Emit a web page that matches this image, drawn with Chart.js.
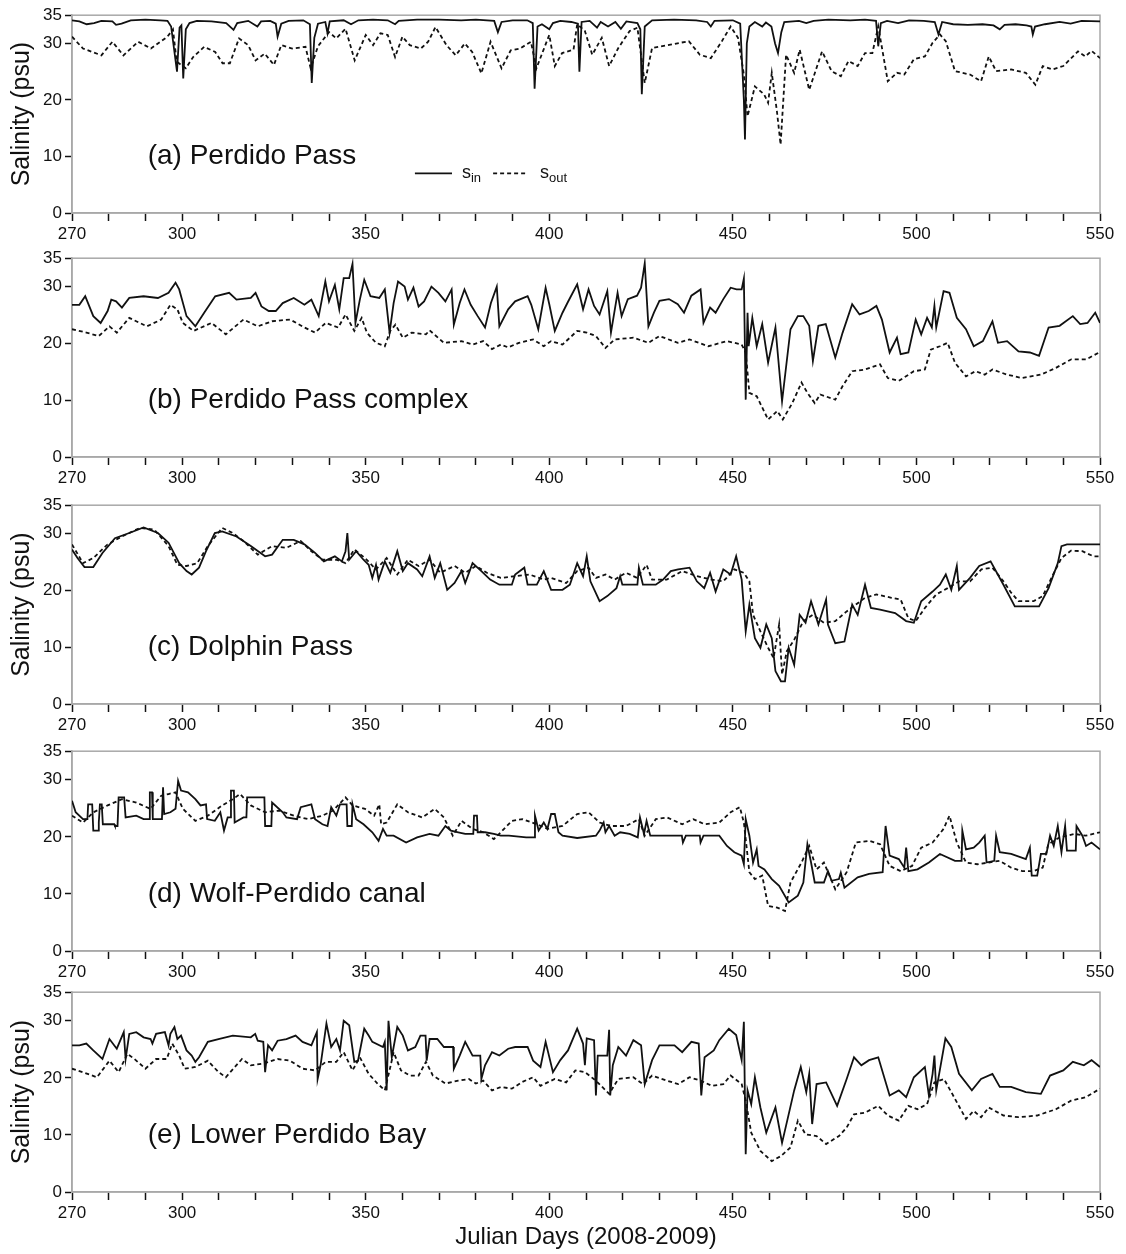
<!DOCTYPE html>
<html>
<head>
<meta charset="utf-8">
<title>Salinity</title>
<script src="https://cdn.jsdelivr.net/npm/chart.js@4.4.1/dist/chart.umd.min.js"></script>
<style>
  html, body { margin: 0; padding: 0; background: #fff; overflow: hidden; }
  #wrap { position: relative; width: 1126px; height: 1254px; }
  #wrap canvas { position: absolute; left: 0; }
</style>
</head>
<body>
<div id="wrap"></div>
<script>
// axis ticks
const xTickDays = [270, 280, 290, 300, 310, 320, 330, 340, 350, 360, 370, 380, 390, 400, 410, 420, 430, 440, 450, 460, 470, 480, 490, 500, 510, 520, 530, 540, 550];
const xLabelDays = [270, 300, 350, 400, 450, 500, 550];
const yTickVals = [0, 10, 20, 30, 35];

// [julian day, salinity] pairs, s_in (solid) and s_out (dashed) per site
const aIn = [[270,34.1],[272,33.9],[274,33.4],[276,33.6],[278,34.0],[281,33.9],[282,33.3],[283.5,33.5],[286,34.1],[290,34.2],[294,34.1],[296,34.0],[297,33.0],[298.6,25.0],[299.3,32.8],[299.8,33.2],[300.3,23.8],[301,32.5],[302,33.6],[304,34.0],[308,33.9],[312,33.6],[314,32.4],[315,33.6],[318,34.0],[320.5,33.0],[321.5,33.9],[324,34.0],[325.5,33.5],[326,31.2],[327,33.5],[329,34.0],[333,34.1],[334.8,33.4],[335.3,23.0],[336,31],[337,33.5],[339,33.8],[339.6,31.8],[340.2,33.9],[344,34.1],[346,33.4],[348,34.1],[352,34.2],[356,34.1],[358,33.4],[359,34.0],[364,34.2],[370,34.2],[376,34.1],[380,34.2],[385,34.0],[386,32.0],[387,33.8],[390,34.1],[394,34.1],[395.5,33.6],[396,22.0],[396.8,33.0],[398,33.4],[400,32.5],[401,33.6],[403,34.0],[406,33.8],[407.8,33.5],[408.2,25.0],[408.8,33.8],[411,34.0],[413,32.8],[414,33.8],[416,33.0],[418,33.8],[419.5,32.6],[421,33.9],[424,33.6],[424.8,32.5],[425.2,21.0],[426,33.0],[428,34.1],[434,34.2],[440,34.1],[443,33.8],[444,33.0],[445,34.0],[450,34.1],[452,33.5],[453,20],[453.3,13.0],[453.8,30],[454.5,33.0],[456,33.8],[458,33.0],[459,33.7],[460.5,33.0],[461.5,30],[462.3,28.3],[463.2,32],[464,33.8],[468,34.0],[470,33.6],[472,34.0],[476,34.2],[482,34.1],[486,34.2],[489,34.0],[489.6,29.5],[490.3,33.6],[492,34.0],[495,33.6],[498,34.1],[502,34.0],[505,33.8],[506,31.6],[507,33.8],[510,33.4],[514,33.3],[518,33.4],[521,33.2],[522.7,32.5],[524,33.3],[527,33.4],[530,33.2],[531.3,33.0],[531.7,31.6],[532.3,33.0],[535,33.4],[539,33.8],[542,33.5],[545,34.0],[550,33.9]];
const aOut = [[270,31.2],[273,29.1],[278,27.9],[281,30.3],[284,27.9],[288,30.3],[291.5,29.1],[296,31.2],[297.5,32.5],[298.5,26.8],[301,25.6],[303,27.6],[306,29.4],[309,28.5],[311,26.5],[313,26.5],[315.5,30.9],[318,29.7],[320,27],[322.5,28.2],[325,26.2],[327,29.7],[330,29.1],[333.6,29.4],[335,25.6],[337,29.5],[340,32],[342,30.9],[344.5,32.6],[347,27],[350,31.5],[352,29.7],[354,31.8],[356,31.5],[358,27.6],[360,31.2],[362,29.7],[365,29.1],[367,30.3],[369,32.9],[372,29.7],[374.5,27.9],[377,30],[379,28.5],[381.5,24.7],[384,30.3],[387,25.6],[389.5,28.8],[392,29.1],[395,30.3],[396.5,25.6],[398.5,29],[400,31.5],[401.5,26],[403.5,28.3],[406.6,28.9],[407.6,33.4],[409.7,32.2],[411.7,28],[414.3,31],[416.3,26],[418.8,29.2],[421.9,32.2],[424,32.8],[426,23],[428,29.2],[433,29.8],[438,30.4],[441,28],[444,27.4],[447,30.4],[449.4,33],[451.4,31],[453,24.5],[454,17.1],[456,22.4],[458.5,21],[459.6,19.5],[460.6,24.8],[462,18],[463,12.1],[464.5,28],[466.7,24.8],[468.2,28.9],[470.8,21.8],[474.3,28.6],[476.9,25.1],[479.4,24.2],[481.5,26.9],[484,26],[486,28.3],[488,28.3],[489.6,33],[492.2,23.3],[494.7,24.8],[496.7,24.5],[499.3,27.2],[502.3,27.7],[504.4,30.1],[506.4,31.6],[508,30.4],[510.5,25.1],[514.6,24.5],[517.6,23.3],[519.7,27.7],[521.7,25.1],[525.8,25.4],[529.8,24.8],[532.4,22.7],[534.4,26],[537,25.4],[540,26],[544,28.6],[546,27.7],[547.7,28.7],[550,27.4]];

const bIn = [[270,26.8],[272,26.8],[273.6,28.3],[275.8,24.8],[277.8,23.6],[279.7,25.7],[280.7,27.7],[282,27.4],[283.6,26.3],[285.6,28],[289.5,28.3],[293.4,28],[296.3,28.9],[298.2,30.7],[299.2,29.5],[301.2,24.8],[303.6,23],[306,25.4],[309,28.3],[312.8,28.9],[314.8,27.7],[318.7,28],[320,28.9],[321.6,26.5],[323.6,25.7],[325.5,25.7],[327.4,27.1],[330.4,28],[333.3,26.8],[335.2,27.7],[337.2,24.8],[339,30.9],[340,27.4],[341.6,30.3],[342.8,26],[344,31.5],[345.5,31.5],[346.4,34],[347.2,23.6],[348.4,27.7],[349.6,31.2],[351.3,28.3],[353.7,28],[355.2,29.5],[356.5,21.9],[357.6,27.1],[358.8,30.9],[360.6,30],[361.5,27.7],[363,29.8],[364.4,26.5],[365.9,27.4],[367.9,30],[369.8,28.9],[371.7,27.4],[373.4,29.5],[374,23.3],[375.6,27.1],[376.9,29.5],[378.6,26.8],[380.5,24.8],[382.5,22.8],[384.1,27.1],[385.7,30],[386.4,23],[388.8,26],[390.7,27.4],[394.1,28.3],[395.1,26.8],[397,22.5],[399,29.8],[400,26.9],[401.5,22.2],[403.6,25.4],[405,27.2],[407.6,30.4],[409.2,26],[410.7,29.5],[412.2,26.6],[413.7,25.1],[415.8,29.2],[416.8,21.9],[418.6,28.9],[419.7,24.8],[421.4,27.8],[423.9,28.4],[425,29.8],[426,34.1],[427,23],[428.5,25.4],[430,27.5],[432.6,27.8],[435,26.9],[436.7,25.4],[438.7,28.4],[441.2,29.5],[442,23.6],[443.8,26.3],[445.3,25.4],[447.4,27.8],[449.4,29.8],[451,29.5],[452.4,29.5],[453,31.4],[453.5,10.1],[454,25.4],[454.3,19.5],[455.3,24.5],[456.5,19.5],[458,23.4],[459.6,16.6],[461.6,22.8],[463.4,9.8],[465.7,22.5],[467.7,24.8],[469.2,24.8],[470.8,23.1],[471.8,16.9],[473.3,23.1],[475.3,23.4],[477.9,17.5],[479.9,21.9],[482.5,26.9],[484.5,25.1],[487,25.7],[489.1,26.6],[490.6,24.2],[492.7,18.4],[494.7,21],[495.7,18.1],[497.8,18.4],[499.8,24.2],[501.3,21.6],[502.9,24.5],[504.2,22.8],[504.9,26.6],[505.4,22.8],[507.4,29.2],[509,28.9],[511,24.5],[513.5,22.5],[515.6,19.5],[518.1,20.4],[520.7,23.9],[522.2,20.1],[524.7,20.4],[527.8,18.6],[530.9,18.4],[533.4,17.8],[536,22.8],[539,23.1],[542.6,24.8],[544.6,23.4],[546.6,23.6],[548.7,25.4],[550,23.6]];
const bOut = [[270,22.5],[273.9,21.9],[277.3,21.3],[280.2,23],[282.2,21.9],[285.6,24.5],[290.4,23],[294.3,24.2],[296.8,26.8],[298.7,26],[300.2,23.6],[303.1,22.2],[308,23.6],[311.9,21.6],[316.7,24.2],[320.6,23],[324.5,23.9],[329.4,24.2],[333.3,22.8],[336.2,21.9],[339.1,23.6],[342.5,22.8],[344.5,25.1],[346.9,22.2],[348.9,24.5],[350.3,21.9],[352.8,20.1],[355.2,19.5],[356.7,22.2],[358.1,23.3],[360.1,21],[362.5,21.9],[366.4,21.6],[367.4,22.3],[371.3,20.1],[376.1,20.4],[379.1,19.8],[382,20.4],[384.4,19],[386.8,19.8],[388.8,19.3],[391.7,20.1],[395.6,20.7],[398.5,19.5],[400.5,20.4],[403.6,19.8],[407.6,22.2],[410.2,21.9],[412.7,21.3],[415.3,19.2],[417.8,20.7],[422.9,21],[427,20.1],[430,21.3],[435,20.1],[438.2,20.7],[443.3,19.5],[448.4,20.4],[452.4,19.8],[453.5,18.4],[454.5,11.3],[456.5,10.7],[459.6,6.6],[462.1,8.1],[463.6,6.6],[466.2,9.5],[468.7,13.1],[470.3,11.3],[472.3,9.5],[473.8,11],[477.9,10.1],[479.9,12.5],[482.5,15.1],[486,15.4],[490.1,16.3],[492.2,13.9],[495.2,13.4],[499.3,15.1],[502.3,15.4],[503.9,18.9],[506.4,19.5],[508.5,20.1],[510.5,16.6],[513.5,14.2],[516.1,15.1],[518.6,14.5],[520.7,15.4],[524.7,14.5],[528.8,13.9],[533.9,14.5],[538,15.7],[542.2,17.2],[546.3,17.2],[550,18.5]];

const cIn = [[270,27.2],[271.5,25.7],[273.4,24.1],[275.8,24.1],[278.3,26.6],[281.7,29.2],[285.6,30.1],[289.5,31.1],[293.4,30.1],[296.3,28.4],[299.2,24.8],[301.2,23.4],[302.6,22.8],[304.6,24],[306.5,26.9],[308.9,30.1],[310.9,30.4],[314.8,29.5],[318.7,27.8],[322.6,26],[324.5,26.3],[327.4,28.9],[330.4,28.9],[333.3,28.1],[336.2,26.6],[338.6,25.1],[341.6,26],[343.5,25.1],[344.5,26.9],[345,30.1],[345.5,25.4],[347.4,26.9],[349.4,25.4],[350.8,24.5],[351.8,22.2],[352.8,24.5],[353.5,21.9],[355.2,25.1],[356.7,23.1],[358.6,26.9],[360.1,23.4],[361.5,24.8],[364,23.7],[365.4,22.5],[367.4,26],[368.8,22.2],[370.3,24.8],[372.2,20.1],[374.2,21.3],[376.1,23.4],[377.1,21.3],[379.1,24.8],[381.5,23.4],[383.9,21.9],[386.4,21],[389.8,21],[390.7,22.8],[393.2,24],[394.1,21],[396.6,21],[398.5,23.4],[400.5,20.1],[403.6,20.1],[405.6,21],[407.6,24.8],[409.2,22.5],[410.2,26],[411.2,21.6],[413.7,18.1],[415.8,19],[418.3,20.4],[419.3,22.5],[419.9,21],[424,21],[424.4,24],[425.5,21],[429,21],[431,21.9],[433.1,23.4],[435.1,23.7],[438.2,24],[440.2,21.6],[442.2,20.4],[443.8,23.1],[445.3,19.8],[447.4,23.7],[449.4,22.8],[450.9,26],[452.4,21.9],[453.5,12.8],[454.5,17.5],[456,11.6],[457.5,9.9],[459.1,14],[460.6,11.6],[461.6,5.8],[463.1,4],[464.2,4],[465.2,9.9],[466.7,6.9],[468.2,15.7],[469.8,14.3],[471.3,18.1],[473.3,14],[475.4,18.4],[475.9,14],[477.9,10.7],[480.4,11],[482.5,17.5],[484,15.7],[486,21],[487.6,16.9],[490.1,16.6],[494.2,16],[497.2,14.6],[499.3,14.3],[501.3,18.1],[504.4,19.8],[506.4,21],[508,22.8],[509.5,20.1],[511,24.3],[511.6,20.1],[514.6,22.2],[517.1,24.3],[520.2,25.1],[523.7,21],[526.8,17.2],[529.8,17.2],[533.4,17.2],[536,20.4],[538.5,24.8],[539.5,27.8],[541,28.1],[550,28.1]];
const cOut = [[270,28.1],[273,24.8],[275.8,25.7],[279.7,28.1],[283.6,29.5],[288.5,31],[292.4,30.7],[296.3,27.8],[298.7,24.5],[301.2,24.3],[304.1,24.8],[307,27.8],[310.9,31],[313.8,30.1],[316.7,28.7],[320.6,26.3],[324.5,27.8],[328.4,27.5],[332.3,28.7],[335.2,26.9],[338.2,25.4],[342,25.4],[344.5,24.8],[346.9,27.2],[349.8,25.7],[352.8,23.7],[355.7,25.7],[358.6,22.8],[361.5,25.4],[364.4,24.3],[367.4,25.4],[370.3,23.1],[374.2,24.3],[377.1,23.1],[380,24.3],[383,23.1],[386.8,22.2],[390.7,22.5],[394.6,22.8],[398.5,21.9],[400.5,22.2],[404.6,21.3],[407.6,23.4],[410.7,24],[412.7,22.2],[415.3,22.8],[417.8,21.9],[420.9,23.1],[423.9,22.2],[426.5,24.5],[428,21.9],[432,21.9],[436.2,23.4],[440.2,22.5],[444.3,21.9],[447.4,21.6],[450.4,23.7],[453,23.1],[454.5,21.6],[455.5,15.7],[457.5,12.8],[459.6,9.9],[461.1,8.1],[462.6,14],[463.4,5.2],[464.7,9.3],[466.7,11.3],[469.2,14.6],[471.8,15.7],[474.8,14.3],[477.9,14.6],[481,16.3],[483.5,17.5],[486,18.7],[489.1,19.3],[493.2,18.7],[495.7,18.4],[497.8,15.1],[499.8,14.6],[502.3,16.9],[505.4,19.3],[508.5,20.4],[511.6,21.6],[514.6,21.6],[517.7,23.7],[520.7,24],[523.7,21.6],[525.8,19.6],[527.8,18.1],[531.9,18.1],[534.4,19],[537,22.5],[539.5,25.7],[542.1,27],[545.2,26.9],[548.2,26],[550,26]];

const dIn = [[270,26.3],[271,24.3],[273,23.1],[274.2,23.1],[274.4,25.7],[275.5,25.7],[275.8,21.1],[277.1,21.1],[277.3,22.5],[277.6,25.7],[278.1,25.7],[278.4,22.2],[281.5,22.2],[281.7,21.9],[282.4,21.9],[282.7,26.9],[284.2,26.9],[284.6,23.4],[287.5,23.7],[289.5,23.1],[291,23.1],[291.2,27.8],[291.8,27.8],[292,23.1],[294.5,23.1],[294.8,28.7],[295.1,24],[296.8,24.3],[298.2,24.9],[298.9,29.8],[299.7,28.1],[301.6,27.8],[303.6,26.6],[305,25.5],[306.5,25.7],[306.8,23.1],[308.9,22.8],[310.4,24.3],[311.4,21.1],[312.4,23.4],[313.1,23.4],[313.3,28.1],[314.1,28.1],[314.3,22.5],[316.7,23.4],[317.5,23.4],[317.7,26.9],[322.4,26.9],[322.6,21.9],[324.3,21.9],[324.5,26],[327.4,24.3],[328.4,23.4],[331.3,23.1],[332.3,25.2],[335.2,25.7],[336.2,23.1],[338.2,22.2],[339.6,21.9],[340.6,25.2],[342,23.7],[343,25.7],[344.8,25.7],[345,21.9],[346.2,21.9],[346.4,25.7],[347.4,23.1],[349.4,22.2],[351.8,20.8],[353.5,19.3],[354.7,21.4],[355.7,20.2],[357.6,20.2],[361,19],[364,19.9],[367.4,20.5],[369.8,20.2],[371.7,21.9],[373.2,21.1],[375.2,20.8],[377.1,20.5],[379.3,20.5],[379.5,23.7],[380.3,23.7],[380.5,20.8],[382.5,20.8],[384.9,20.5],[386.8,20.2],[389,20.2],[393.7,19.9],[395.9,19.9],[396.1,23.7],[397.1,21.1],[398.5,22.5],[399.5,21.4],[400.5,24],[401.5,24],[402.5,20.8],[403.6,20.2],[407.6,19.8],[412.7,20.2],[413.7,21.1],[414.8,22.5],[415.3,20.8],[416.3,21.9],[417.8,20.2],[419.3,20.8],[421.9,20.5],[424.1,19.9],[424.7,23.4],[425.8,20.5],[426.5,22.8],[427.5,20.2],[436.1,20.2],[436.4,19],[437.2,20.2],[441,20.2],[441.2,19],[442,20.2],[446.3,20.2],[448.4,18.4],[450.4,17.3],[452.4,16.7],[453,15.2],[453.5,23.1],[454.5,20.2],[455.5,15.5],[456.5,17.8],[457,14.9],[458.6,14.3],[460.6,12.6],[462.6,11.4],[465.2,8.5],[467.7,9.7],[469.2,12],[470.3,18.7],[471.3,15.5],[472.3,12],[474.8,12],[475.9,14],[476.9,12.3],[478.9,12.6],[479.4,13.7],[480.4,11.1],[484,12.9],[487.1,13.5],[490.8,13.8],[491.6,21.9],[492.7,16.7],[495.2,16.1],[496.7,14.6],[497.2,18.1],[497.8,14],[500.3,14.3],[503.4,15.5],[506.4,17],[510.5,15.8],[512.3,15.8],[512.5,21.1],[513.5,17.8],[515.6,18.1],[517.1,19],[518.6,20.2],[519.1,15.5],[521.2,15.8],[521.7,20.2],[522.7,17.3],[525.8,17],[529.8,16.1],[530.9,18.1],[531.4,13.2],[532.9,13.2],[533.9,17],[535.4,17],[536.4,20.2],[537.4,18.4],[538.5,21.9],[539.5,17.3],[540.5,21.9],[541,17.6],[543.4,17.6],[543.6,21.9],[545.2,20.2],[546.2,18.4],[547.7,19],[550,17.8]];
const dOut = [[270,23.7],[273,22.5],[275.8,24.3],[279.7,25.5],[283.6,26.6],[287.5,26],[291.4,24.9],[294.3,27.2],[296.3,27.5],[298.2,27.8],[300.2,24.9],[303.6,22.8],[307,23.7],[310.9,25.5],[313.8,26.6],[315.8,27.5],[318.7,25.5],[322.6,24.3],[326.5,24.6],[330.4,23.7],[334.3,23.1],[338.2,23.7],[341.1,24.6],[344.5,26.9],[346.4,25.5],[349.8,24.9],[352.3,23.7],[353.7,25.7],[354.2,22.2],[355.7,22.5],[358.6,25.7],[361.5,24.3],[365.4,23.4],[368.8,24.9],[371.3,23.4],[373.7,20.2],[376.1,22.8],[379.1,21.4],[382,20.8],[384.9,19.6],[386.8,20.8],[389.8,22.8],[392.7,23.1],[396.6,22.2],[399.5,21.4],[403.6,21.9],[407.6,24],[410.7,24.3],[413.7,22.5],[416.8,21.9],[420.9,21.9],[424.4,23.1],[426,20.2],[429,23.1],[432.1,23.4],[436.2,22.2],[439.2,23.1],[442.3,22.2],[446.3,22.5],[449.4,24.3],[451.9,25.2],[453,22.5],[454.5,13.8],[456,12.6],[458,13.2],[459.6,7.9],[462.1,7.6],[464.2,7],[465.7,12],[468.7,15.5],[470.8,18.4],[472.8,14.3],[474.8,15.5],[477.9,10.8],[481,13.8],[483.5,19],[487.1,19.3],[490.1,18.7],[492.7,14.9],[495.7,14],[498.8,14.9],[501.3,18.1],[504.4,19],[507.4,21.4],[509,23.7],[511,19],[513.5,15.5],[516.6,15.2],[519.7,15.5],[522.7,15.8],[525.8,14.6],[528.8,14],[531.9,14],[534.4,14.6],[535.9,18.7],[539,19.9],[543.1,20.5],[546.1,20.2],[550,20.8]];

const eIn = [[270,25.7],[272,25.7],[273.9,26],[275.8,24.8],[278.3,23.3],[280.2,26.8],[282.2,25.1],[284.1,28],[284.6,23.3],[285.6,27.7],[287.5,28],[289.5,27.1],[291.4,26.8],[291.9,26],[292.9,27.7],[295.3,28],[296.3,25.7],[296.8,27.7],[297.9,28.9],[298.7,26.8],[299.7,27.4],[301.2,24.8],[302.6,23.9],[303.6,22.8],[304.6,23.6],[307,26.3],[309.9,26.8],[313.8,27.4],[318.7,27.1],[319.9,27.7],[320.6,26.5],[322.1,26.3],[322.6,21],[323.4,25.7],[324.5,24.8],[326,26.5],[328.4,26.8],[330.9,27.4],[332.8,26.3],[335.2,25.7],[336.7,28],[336.9,19.8],[337.7,22.2],[339.3,29.5],[340.6,25.4],[342,26.8],[343,24.8],[344,30],[345.5,29.2],[346.9,22.8],[347.9,23],[349.6,28.6],[350.8,27.4],[351.8,26.3],[354.7,25.4],[355.2,26.3],[355.7,17.8],[356.2,30],[357.1,23.6],[358.6,28.9],[360.1,27.4],[361.5,24.8],[363.5,25.4],[364.9,27.4],[366.3,27.4],[366.6,23],[367.4,26.8],[369.5,26.8],[371.3,25.4],[373.8,25.4],[374,21.6],[375.6,23.9],[377.1,26.3],[379.1,23.9],[381.2,23.9],[381.5,19.8],[382.5,22.2],[384.4,24.5],[386.4,23.9],[388.8,25.1],[390.7,25.4],[394.1,25.4],[395.6,23],[397.6,21.9],[399,26.3],[401,21],[403,23.1],[405.1,24.8],[407.6,28.6],[409.2,26],[409.7,22.2],[410.2,26.9],[412.2,26.6],[412.7,16.9],[413.2,23.9],[415.8,23.9],[416.3,28.4],[416.6,16.9],[417.3,22.2],[418.8,25.4],[420.9,23.9],[422.9,26.6],[425,25.7],[426,18.9],[428,23.1],[430,25.7],[434.1,25.7],[436.2,24.5],[438.7,26.3],[440.7,26],[441.4,16.9],[442.3,23.6],[444.8,24.8],[446.3,26.6],[448.9,28.6],[450.9,27.5],[452.4,23.1],[453,29.8],[453.5,6.6],[454,17.8],[455,15.4],[456,20.1],[457.5,14.8],[459.1,10.4],[461.6,14.8],[463.4,8.6],[465.2,13.6],[466.7,17.8],[468.5,21.9],[470,17.5],[470.8,20.7],[471.6,11.9],[472.8,18.9],[475.4,19.2],[478.4,15.1],[481,19.8],[483,23.6],[485,22.2],[487.1,23.1],[489.6,23.6],[492.7,16.9],[495.2,17.8],[497.2,16.6],[499.3,20.1],[502.3,21.9],[503.4,16.9],[504.4,20.7],[504.9,23.9],[505.4,17.8],[507.9,26.9],[509.5,25.4],[511.6,20.7],[515.1,17.8],[517.6,19.8],[520.7,20.7],[522.7,18.4],[525.8,18.4],[529.8,17.5],[533.9,17.2],[536.4,20.4],[540,21.3],[542.6,22.8],[545.6,22.2],[547.7,23.1],[550,21.9]];
const eOut = [[270,21.6],[272.9,21],[276.8,20.1],[280.2,23],[282.7,21],[285.1,24.2],[287,23.3],[290,21.6],[292.9,23.3],[295.8,23.3],[297.3,26],[299.2,23.9],[300.7,21.6],[303.6,21.9],[307,23],[309.9,21],[311.9,20.1],[316.3,23.3],[318.7,22.2],[322.1,22.5],[326,23.3],[329.4,23],[332.8,21.6],[336.2,21.3],[339.1,22.8],[342,22.8],[344,24.5],[346.4,21.3],[348.4,23.6],[350.8,20.7],[353.2,19],[355.2,17.8],[356.7,21.9],[357.6,24.5],[359.6,21.3],[362,20.4],[364.4,20.4],[366.4,22.8],[368.3,20.4],[371.7,19],[375.2,19.5],[378.1,19.8],[380,19],[382,19.5],[384.4,17.8],[386.8,18.4],[389.8,18.1],[392.7,19.3],[395.6,20.1],[397.6,18.6],[401.5,19.8],[404.6,19.2],[407.1,21.3],[409.7,21],[412.7,19.5],[416.3,17.2],[418.8,19.8],[422.9,20.1],[425.5,18.9],[428,20.4],[432.1,19.5],[435.1,18.9],[438.2,20.1],[441.2,19.5],[444.3,18.6],[447.4,18.9],[449.4,20.4],[452.4,18.9],[453.5,16],[455,10.4],[457.5,7.2],[460.6,5.4],[463.1,6.3],[465.7,7.8],[467.7,12.5],[469.8,10.1],[472.8,9.8],[475.4,8.4],[478.9,9.8],[481,11.3],[483,13.6],[486,13.9],[489.6,15.1],[492.2,13.4],[495.2,12.5],[497.8,15.1],[500.3,14.5],[502.9,15.4],[504.9,19.2],[507.5,19.8],[509.5,17.5],[513.5,12.8],[515.6,14.2],[517.6,13.1],[519.7,14.8],[523.7,13.4],[527.8,13.1],[532.9,13.4],[538,14.5],[542.1,16],[546.1,16.6],[550,18.1]];

const FONT = 'Arial, "Liberation Sans", sans-serif';
const INK = '#111';
const FRAME = '#a8a8a8';

// plot area of each panel on the page (top / bottom pixel of 35 and 0 psu)
const panels = [
  { name: '(a) Perdido Pass',        sIn: aIn, sOut: aOut, top: 14,  bottom: 213,  yTitle: true,  legend: true },
  { name: '(b) Perdido Pass complex', sIn: bIn, sOut: bOut, top: 257, bottom: 457,  yTitle: false },
  { name: '(c) Dolphin Pass',        sIn: cIn, sOut: cOut, top: 504, bottom: 704,  yTitle: true },
  { name: '(d) Wolf-Perdido canal',  sIn: dIn, sOut: dOut, top: 750, bottom: 951,  yTitle: false },
  { name: '(e) Lower Perdido Bay',   sIn: eIn, sOut: eOut, top: 991, bottom: 1192, yTitle: true, xTitle: true }
];

const toXY = arr => arr.map(p => ({ x: p[0], y: p[1] }));

// gray box around the plot, site name and the s_in / s_out key
const panelDecor = {
  id: 'panelDecor',
  beforeDatasetsDraw(chart) {
    const { ctx, chartArea: a } = chart;
    ctx.save();
    ctx.strokeStyle = FRAME;
    ctx.lineWidth = 1.5;
    ctx.strokeRect(a.left, a.top, a.right - a.left, a.bottom - a.top);
    ctx.restore();
  },
  afterDatasetsDraw(chart, args, opts) {
    const { ctx, scales: { x, y } } = chart;
    ctx.save();
    ctx.fillStyle = INK;
    ctx.font = '28px ' + FONT;
    ctx.textBaseline = 'middle';
    ctx.fillText(opts.name, x.getPixelForValue(290.6), y.getPixelForValue(10));

    if (opts.legend) {
      const ly = y.getPixelForValue(7);
      ctx.strokeStyle = INK;
      ctx.lineWidth = 1.8;
      ctx.beginPath();
      ctx.moveTo(x.getPixelForValue(363.4), ly);
      ctx.lineTo(x.getPixelForValue(373.5), ly);
      ctx.stroke();
      ctx.setLineDash([4, 3]);
      ctx.beginPath();
      ctx.moveTo(x.getPixelForValue(384.7), ly);
      ctx.lineTo(x.getPixelForValue(393.9), ly);
      ctx.stroke();
      ctx.setLineDash([]);

      const sub = (px, subText) => {
        ctx.textBaseline = 'alphabetic';
        ctx.font = '18px ' + FONT;
        ctx.fillText('s', px, ly + 5);
        const w = ctx.measureText('s').width;
        ctx.font = '13px ' + FONT;
        ctx.fillText(subText, px + w, ly + 9);
      };
      sub(x.getPixelForValue(376.2), 'in');
      sub(x.getPixelForValue(397.5), 'out');
    }
    ctx.restore();
  }
};

const wrap = document.getElementById('wrap');
const PAD_TOP = 12;

panels.forEach(p => {
  const xAxisH = p.xTitle ? 60 : 34;
  const h = (p.bottom - p.top) + PAD_TOP + xAxisH;
  const canvas = document.createElement('canvas');
  canvas.width = 1126;
  canvas.height = h;
  canvas.style.top = (p.top - PAD_TOP) + 'px';
  canvas.style.width = '1126px';
  canvas.style.height = h + 'px';
  wrap.appendChild(canvas);

  new Chart(canvas.getContext('2d'), {
    type: 'line',
    data: {
      datasets: [
        { label: 's_in', data: toXY(p.sIn), borderColor: INK, borderWidth: 1.8, pointRadius: 0, tension: 0, fill: false },
        { label: 's_out', data: toXY(p.sOut), borderColor: INK, borderWidth: 1.8, borderDash: [4, 3], pointRadius: 0, tension: 0, fill: false }
      ]
    },
    options: {
      responsive: false,
      animation: false,
      devicePixelRatio: 1,
      layout: { padding: { top: PAD_TOP, right: 26, left: 0, bottom: 0 } },
      plugins: {
        legend: { display: false },
        tooltip: { enabled: false },
        panelDecor: { name: p.name, legend: !!p.legend }
      },
      scales: {
        x: {
          type: 'linear',
          min: 270,
          max: 550,
          afterBuildTicks: s => { s.ticks = xTickDays.map(v => ({ value: v })); },
          afterFit: s => { s.height = xAxisH; },
          ticks: {
            autoSkip: false,
            maxRotation: 0,
            padding: 3,
            color: INK,
            font: { family: FONT, size: 17 },
            callback: v => xLabelDays.includes(v) ? String(v) : ''
          },
          grid: { drawOnChartArea: false, tickLength: 8, tickColor: INK, tickWidth: 1.5 },
          border: { color: FRAME, width: 1.5 },
          title: {
            display: !!p.xTitle,
            text: 'Julian Days (2008-2009)',
            color: INK,
            font: { family: FONT, size: 24 },
            padding: { top: 0, bottom: 0 }
          }
        },
        y: {
          min: 0,
          max: 35,
          afterBuildTicks: s => { s.ticks = yTickVals.map(v => ({ value: v })); },
          afterFit: s => { s.width = 72; },
          ticks: {
            padding: 3,
            color: INK,
            font: { family: FONT, size: 17 }
          },
          grid: { drawOnChartArea: false, tickLength: 7, tickColor: INK, tickWidth: 1.5 },
          border: { color: FRAME, width: 1.5 },
          title: {
            display: p.yTitle,
            text: 'Salinity (psu)',
            color: INK,
            font: { family: FONT, size: 25 },
            padding: { top: 7, bottom: 0 }
          }
        }
      }
    },
    plugins: [panelDecor]
  });
});
</script>
</body>
</html>
